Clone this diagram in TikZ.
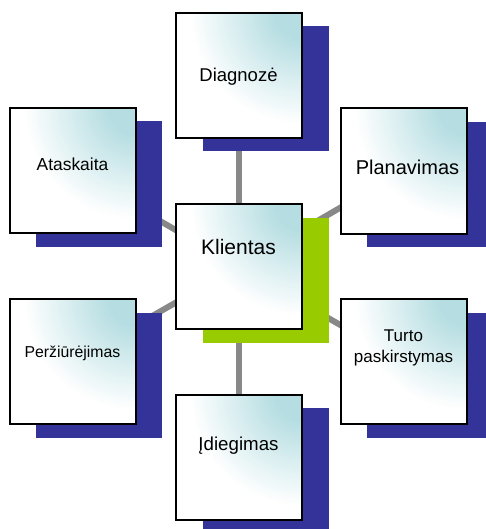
\documentclass[tikz,border=0pt]{standalone}
\usepackage{fontspec}
\setmainfont{Liberation Sans}
\usetikzlibrary{backgrounds}

\definecolor{boxcyan}{RGB}{182,222,226}
\definecolor{shadowblue}{RGB}{51,51,153}
\definecolor{shadowgreen}{RGB}{153,204,0}
\definecolor{linkgray}{RGB}{136,136,136}

\pgfdeclarelayer{links}
\pgfdeclarelayer{shades}
\pgfsetlayers{links,shades,main}

% solid offset shadow behind a card
\newcommand\castshadow[2]{%
  \fill[#2] ([shift={(26.5,13.5)}]#1.north west) rectangle ([shift={(26.5,13.5)}]#1.south east);}

% pale cyan glow spreading from the upper right corner, built from rings
\newcommand\cornerglow{%
  \foreach \i [evaluate=\i as \p using \i*2.5,
               evaluate=\i as \r using 112-\i*2.1] in {0,...,40}
    \fill[boxcyan!\p!white] (path picture bounding box.north east) circle (\r pt);}

\tikzset{
  card/.style={draw=black, line width=2pt, fill=white,
    minimum width=126pt, minimum height=125pt, inner sep=0pt, outer sep=0pt,
    path picture={\cornerglow}},
  cardtext/.style={inner sep=0pt, outer sep=0pt, anchor=base, text=black,
    font=\fontsize{#1pt}{24pt}\selectfont},
  link/.style={draw=linkgray, line width=6pt}
}

\begin{document}
\begin{tikzpicture}[x=1pt, y=-1pt]
  \useasboundingbox (0,0) rectangle (485,529);
  \clip (0,0) rectangle (485,529);

  % cards
  \node[card] (klientas) at (239,266.5) {};
  \node[card] (diagnoze) at (239,75.5) {};
  \node[card] (ataskaita) at (72.5,170.5) {};
  \node[card] (planavimas) at (403.5,171) {};
  \node[card] (perziurejimas) at (72.5,361.5) {};
  \node[card] (turto) at (403.5,361.5) {};
  \node[card] (idiegimas) at (239,457) {};

  % captions
  \node[cardtext=21] (t-klientas) at (238.5,254) {Klientas};
  \node[cardtext=18.5] (t-diagnoze) at (238.5,82) {Diagnozė};
  \node[cardtext=17.4] (t-ataskaita) at (72.5,171) {Ataskaita};
  \node[cardtext=20] (t-planavimas) at (407.5,175) {Planavimas};
  \node[cardtext=15.8] (t-perziurejimas) at (72.5,357.3) {Peržiūrėjimas};
  \node[cardtext=17, anchor=center, align=center,
        font=\fontsize{17pt}{21pt}\selectfont] (t-turto) at (403.5,348) {Turto\\paskirstymas};
  \node[cardtext=18.7] (t-idiegimas) at (238.5,450) {Įdiegimas};

  % shadows
  \begin{pgfonlayer}{shades}
    \castshadow{klientas}{shadowgreen}
    \castshadow{diagnoze}{shadowblue}
    \castshadow{ataskaita}{shadowblue}
    \castshadow{planavimas}{shadowblue}
    \castshadow{perziurejimas}{shadowblue}
    \castshadow{turto}{shadowblue}
    \castshadow{idiegimas}{shadowblue}
  \end{pgfonlayer}

  % spokes from the hub
  \begin{pgfonlayer}{links}
    \foreach \n in {diagnoze,ataskaita,planavimas,perziurejimas,turto,idiegimas}
      \draw[link] (klientas.center) -- (\n.center);
  \end{pgfonlayer}
\end{tikzpicture}
\end{document}
